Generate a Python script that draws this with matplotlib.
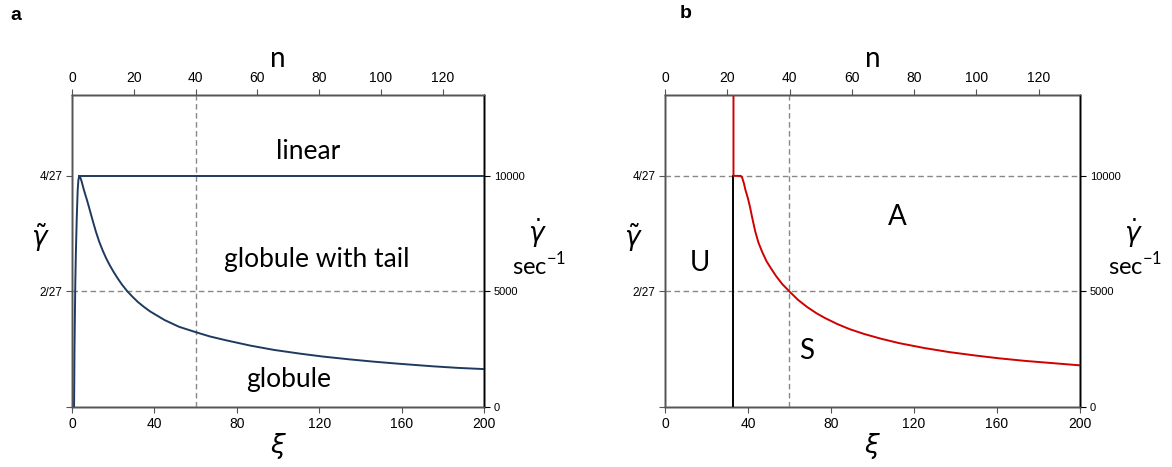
import matplotlib
matplotlib.use("Agg")
import matplotlib.pyplot as plt

# ---------------- data ----------------
G4 = 4 / 27
G2 = 2 / 27
YMAX = 0.2
XI_MAX = 200
N_PER_XI = 1 / 1.5          # n axis: xi 200 -> n 133.3
GDOT_PER_G = 10000 / G4      # gamma-dot axis: 4/27 -> 10000 s^-1

# panel a: curve (rise + decay)
xi_a = [1.0, 1.05, 1.1, 1.2, 1.4, 1.6, 1.9, 2.3, 2.75, 3.1, 3.5, 4.0, 4.7, 5.5, 6.3,
        7.1, 8.0, 9.0, 10.2, 11.65, 13.2, 15.0, 16.7, 18.4, 20.2, 22.0, 24.3, 26.9,
        29.5, 32.0, 35.0, 38.0, 45.0, 52.0, 60.0, 67.0, 75.0, 86.4, 98.0, 110.7,
        122.0, 135.0, 147.0, 159.0, 175.0, 187.0, 200.0]
g_a = [0.0, 0.008, 0.0153, 0.036, 0.058, 0.0792, 0.100, 0.121, 0.1387, 0.1455, G4,
       0.1473, 0.1445, 0.1405, 0.1368, 0.1334, 0.1293, 0.1245, 0.1188, 0.1122, 0.1060,
       0.1000, 0.0950, 0.0907, 0.0866, 0.0828, 0.0784, 0.0741, 0.0705, 0.0673, 0.0641,
       0.0612, 0.0557, 0.0514, 0.0480, 0.0452, 0.0427, 0.0394, 0.0366, 0.0342, 0.0323,
       0.0305, 0.0290, 0.0277, 0.0261, 0.0251, 0.0243]
# panel a: linear boundary
xi_lin = [3.5, 200.0]
g_lin = [G4, G4]

# panel b: red boundary
xi_b = [33.0, 33.0, 36.5, 37.2, 38.0, 38.8, 40.0, 41.0, 42.0, 43.5, 45.0, 46.8, 48.9,
        51.0, 53.5, 56.5, 60.1, 64.0, 68.5, 73.0, 77.0, 83.0, 89.0, 96.0, 104.0, 113.0,
        125.0, 137.0, 149.0, 161.0, 174.0, 187.0, 200.0]
g_b = [YMAX, G4, G4, 0.1470, 0.1435, 0.1390, 0.1336, 0.1280, 0.1215, 0.1125, 0.1055,
       0.0995, 0.0935, 0.0890, 0.0840, 0.0788, 0.0739, 0.0688, 0.0641, 0.0601, 0.0571,
       0.0532, 0.0499, 0.0468, 0.0438, 0.0409, 0.0378, 0.0352, 0.0331, 0.0312, 0.0295,
       0.0281, 0.0267]
# panel b: black vertical boundary
xi_v = [33.0, 33.0]
g_v = [0.0, G4]

xi_dash = 60.0

xi_ticks = [0, 40, 80, 120, 160, 200]
n_ticks = [0, 20, 40, 60, 80, 100, 120]
g_ticks = [0, G2, G4]
g_ticklabels = ["", "2/27", "4/27"]
gd_ticks = [0, 5000, 10000]

labels_a = [("linear", 114.5, 0.164), ("globule with tail", 119, 0.0945), ("globule", 105, 0.0175)]
labels_b = [("U", 17, 0.0925), ("A", 112, 0.1215), ("S", 68, 0.036)]

BLUE = "#1f3a5f"
RED = "#d00000"
GRID = "#888888"
SPINE = "#555555"
TXTFONT = ["Lato", "DejaVu Sans"]
TICKFONT = ["Liberation Sans", "DejaVu Sans"]

fig = plt.figure(figsize=(11.72, 4.67), dpi=100)
H = 467
W = 1172


def make_axes(left_px, right_px):
    ax = fig.add_axes([left_px / W, 1 - 407 / H, (right_px - left_px) / W, (407 - 95) / H])
    ax.set_xlim(0, XI_MAX)
    ax.set_ylim(0, YMAX)
    ax.set_xticks(xi_ticks)
    ax.set_xticklabels([str(t) for t in xi_ticks], fontsize=10, family=TICKFONT)
    ax.set_yticks(g_ticks)
    ax.set_yticklabels(g_ticklabels, fontsize=8.5, family=TICKFONT)
    ax.tick_params(axis="both", direction="out", length=4, width=0.8, color=SPINE, pad=3)
    for s in ax.spines.values():
        s.set_color(SPINE)
        s.set_linewidth(1.0)
    ax.spines["right"].set_color("black")

    axt = ax.twiny()
    axt.set_xlim(0, XI_MAX * N_PER_XI)
    axt.set_xticks(n_ticks)
    axt.set_xticklabels([str(t) for t in n_ticks], fontsize=10, family=TICKFONT)
    axt.tick_params(axis="x", direction="out", length=4, width=0.8, color=SPINE, pad=3)

    axr = ax.twinx()
    axr.set_ylim(0, YMAX * GDOT_PER_G)
    axr.set_yticks(gd_ticks)
    axr.set_yticklabels([str(t) for t in gd_ticks], fontsize=8, family=TICKFONT)
    axr.tick_params(axis="y", direction="out", length=4, width=0.8, color="black", pad=3)
    for a in (axt, axr):
        for s in a.spines.values():
            s.set_color(SPINE)
            s.set_linewidth(1.0)
        a.spines["right"].set_color("black")

    ax.set_xlabel(r"$\xi$", fontsize=19, labelpad=0)
    axt.set_xlabel("n", fontsize=20, family=TXTFONT, labelpad=3)
    ax.set_zorder(axr.get_zorder() + 1)
    ax.patch.set_visible(False)
    return ax, axt, axr


# ---- panel a ----
axa, axat, axar = make_axes(72, 484)
axa.axvline(xi_dash, color=GRID, ls=(0, (4, 2.5)), lw=1.0)
axa.axhline(G2, color=GRID, ls=(0, (4, 2.5)), lw=1.0)
axa.plot(xi_a, g_a, color=BLUE, lw=1.4)
axa.plot(xi_lin, g_lin, color=BLUE, lw=1.4)
for t, x, y in labels_a:
    axa.text(x, y, t, fontsize=19, family=TXTFONT, ha="center", va="center")

# ---- panel b ----
axb, axbt, axbr = make_axes(665, 1080)
axb.axvline(xi_dash, color=GRID, ls=(0, (4, 2.5)), lw=1.0)
axb.axhline(G2, color=GRID, ls=(0, (4, 2.5)), lw=1.0)
axb.axhline(G4, color=GRID, ls=(0, (4, 2.5)), lw=1.0)
axb.plot(xi_v, g_v, color="black", lw=1.4)
axb.plot(xi_b, g_b, color=RED, lw=1.4)
for t, x, y in labels_b:
    axb.text(x, y, t, fontsize=20, family=TXTFONT, ha="center", va="center")

# left gamma-tilde labels
for xpx in (40, 633):
    fig.text(xpx / W, 1 - 238 / H, r"$\tilde{\gamma}$", fontsize=19, ha="center", va="center")

# right-side gamma-dot labels
for xpx in (537, 1133):
    fig.text(xpx / W, 1 - 233 / H, r"$\dot{\gamma}$", fontsize=19, ha="center", va="center")
    fig.text(xpx / W + 0.002, 1 - 265 / H, "sec$^{\\mathregular{-1}}$", fontsize=17,
             family=TXTFONT, ha="center", va="center")

fig.text(16 / W, 1 - 16 / H, "a", fontsize=14, fontweight="bold", family=TICKFONT, ha="center", va="center")
fig.text(686 / W, 1 - 14 / H, "b", fontsize=14, fontweight="bold", family=TICKFONT, ha="center", va="center")

fig.savefig("out.png", dpi=100)
